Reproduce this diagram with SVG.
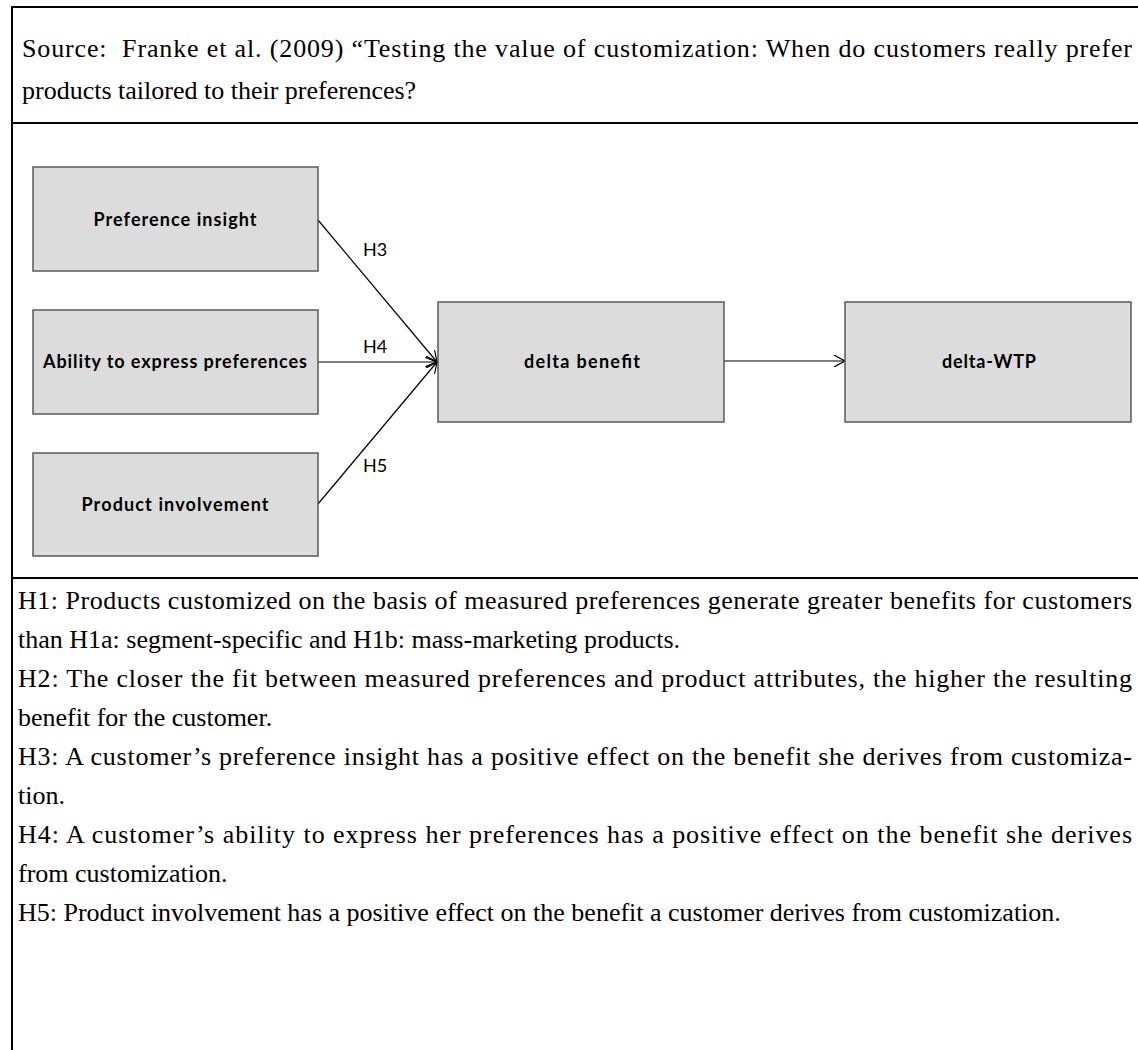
<svg xmlns="http://www.w3.org/2000/svg" width="1138" height="1050" viewBox="0 0 1138 1050">
<defs>
<style>
.frame{stroke:#000;stroke-width:2;fill:none}
.box{fill:#dcdcdc;stroke:#5a5a5a;stroke-width:1.5}
.lbl{font-family:"Lato","Open Sans","Liberation Sans",sans-serif;font-weight:bold;font-size:18px;fill:#000;text-anchor:middle}
.h{font-family:"Lato","Open Sans","Liberation Sans",sans-serif;font-size:18px;fill:#000}
.body{font-family:"Liberation Serif","Times New Roman",serif;font-size:26px;fill:#000}
.conn{stroke:#000;stroke-width:1.2;fill:none}
</style>
<marker id="arr" viewBox="0 0 12 12" refX="11" refY="6" markerWidth="12" markerHeight="12" markerUnits="userSpaceOnUse" orient="auto">
<path d="M0,0 L11,6 L0,12" fill="none" stroke="#000" stroke-width="1.2"/>
</marker>
</defs>
<rect width="1138" height="1050" fill="#fff"/>
<g id="frame">
<line class="frame" x1="12" y1="7" x2="1138" y2="7"/>
<line class="frame" x1="12" y1="6" x2="12" y2="1050"/>
<line class="frame" x1="12" y1="123" x2="1138" y2="123"/>
<line class="frame" x1="12" y1="578" x2="1138" y2="578"/>
</g>
<g id="source">
<text class="body" x="22" y="57" textLength="1110" lengthAdjust="spacing" xml:space="preserve">Source:  Franke et al. (2009) “Testing the value of customization: When do customers really prefer</text>
<text class="body" x="22" y="99">products tailored to their preferences?</text>
</g>
<g id="connectors">
<line class="conn" x1="318" y1="220" x2="437" y2="362" marker-end="url(#arr)"/>
<line class="conn" x1="318" y1="362" x2="437" y2="362" marker-end="url(#arr)"/>
<line class="conn" x1="318" y1="504" x2="437" y2="362" marker-end="url(#arr)"/>
<line class="conn" x1="724" y1="361" x2="845" y2="361" marker-end="url(#arr)"/>
<text class="h" x="363" y="256">H3</text>
<text class="h" x="363" y="353">H4</text>
<text class="h" x="363" y="472">H5</text>
</g>
<g id="n-pref">
<rect class="box" x="33" y="167" width="285" height="104"/>
<text class="lbl" x="175" y="226" textLength="163">Preference insight</text>
</g>
<g id="n-ability">
<rect class="box" x="33" y="310" width="285" height="104"/>
<text class="lbl" x="175" y="368" textLength="264">Ability to express preferences</text>
</g>
<g id="n-involve">
<rect class="box" x="33" y="453" width="285" height="103"/>
<text class="lbl" x="175" y="511" textLength="187">Product involvement</text>
</g>
<g id="n-delta-benefit">
<rect class="box" x="438" y="302" width="286" height="120"/>
<text class="lbl" x="582" y="368" textLength="116">delta benefit</text>
</g>
<g id="n-delta-wtp">
<rect class="box" x="845" y="302" width="286" height="120"/>
<text class="lbl" x="989" y="368" textLength="94">delta-WTP</text>
</g>
<g id="hypotheses">
<text class="body" x="18" y="609" textLength="1114" lengthAdjust="spacing">H1: Products customized on the basis of measured preferences generate greater benefits for customers</text>
<text class="body" x="18" y="648">than H1a: segment-specific and H1b: mass-marketing products.</text>
<text class="body" x="18" y="687" textLength="1114" lengthAdjust="spacing">H2: The closer the fit between measured preferences and product attributes, the higher the resulting</text>
<text class="body" x="18" y="726">benefit for the customer.</text>
<text class="body" x="18" y="765" textLength="1114" lengthAdjust="spacing">H3: A customer’s preference insight has a positive effect on the benefit she derives from customiza-</text>
<text class="body" x="18" y="804">tion.</text>
<text class="body" x="18" y="843" textLength="1114" lengthAdjust="spacing">H4: A customer’s ability to express her preferences has a positive effect on the benefit she derives</text>
<text class="body" x="18" y="882">from customization.</text>
<text class="body" x="18" y="921">H5: Product involvement has a positive effect on the benefit a customer derives from customization.</text>
</g>
</svg>
